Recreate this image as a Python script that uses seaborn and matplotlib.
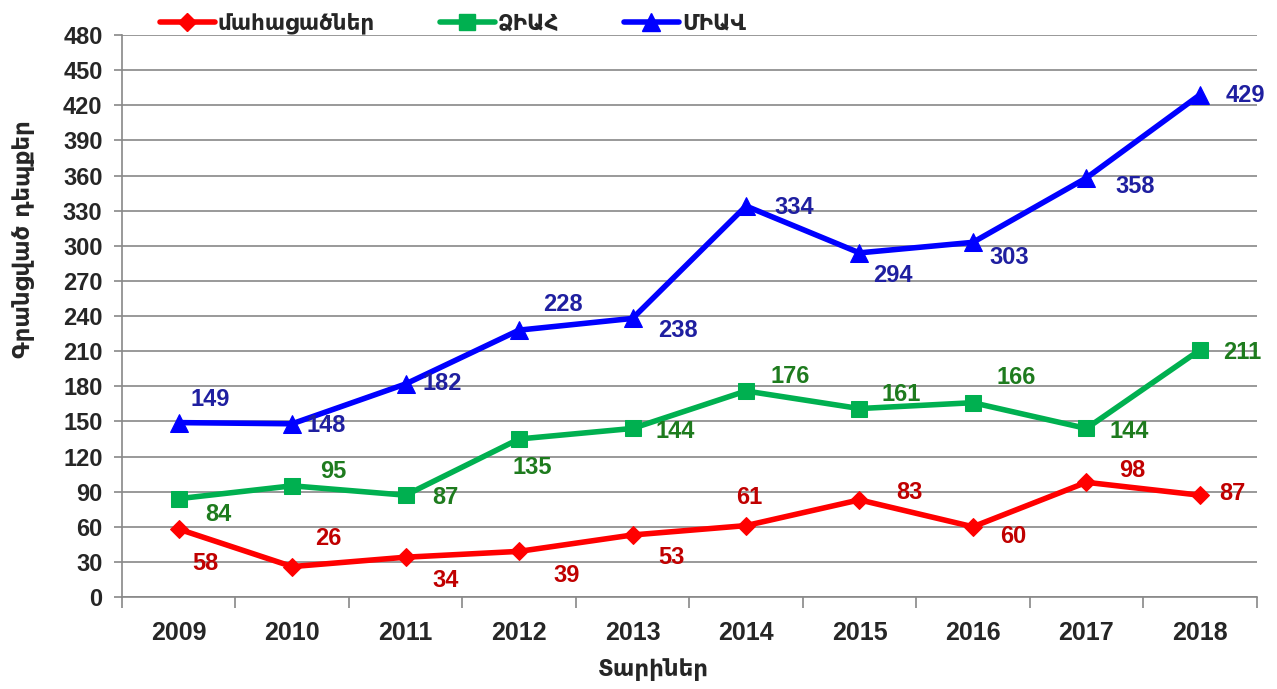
import pandas as pd
import numpy as np
import seaborn as sns
import matplotlib.pyplot as plt
from matplotlib.lines import Line2D

years = [2009, 2010, 2011, 2012, 2013, 2014, 2015, 2016, 2017, 2018]
deaths = [58, 26, 34, 39, 53, 61, 83, 60, 98, 87]
aids = [84, 95, 87, 135, 144, 176, 161, 166, 144, 211]
hiv = [149, 148, 182, 228, 238, 334, 294, 303, 358, 429]

names = ["մահացածներ", "ՁԻԱՀ", "ՄԻԱՎ"]

# label offsets in pixels (dx right, dy down) per point
off_deaths = [(27, 34), (36, -28), (40, 23), (48, 24), (39, 23), (3, -28), (50, -7), (40, 10), (46, -12), (33, -2)]
off_aids = [(40, 16), (41, -14), (40, 2), (13, 29), (43, 3), (44, -14), (42, -14), (43, -25), (43, 3), (42, 2)]
off_hiv = [(32, -23), (34, 2), (37, 0), (44, -26), (45, 12), (48, 1), (33, 23), (36, 15), (49, 9), (46, 1)]

df = pd.DataFrame({
    "year": years * 3,
    "value": deaths + aids + hiv,
    "series": [names[0]] * 10 + [names[1]] * 10 + [names[2]] * 10,
})

sns.set_theme(style="white")
plt.rcParams["font.family"] = ["Liberation Sans", "DejaVu Sans"]
plt.rcParams["font.weight"] = "bold"
arm = ["DejaVu Sans"]

fig = plt.figure(figsize=(12.77, 6.89), dpi=100)
ax = fig.add_axes([0.0955, 0.1335, 0.8885, 0.8155])

line_cols = ["#FF0000", "#00B050", "#0000FF"]
text_cols = ["#C00000", "#1E7B1E", "#1F1FA0"]
markers = ["D", "s", "^"]
msizes = [9, 12, 13]

for name, col, mk, ms in zip(names, line_cols, markers, msizes):
    sub = df[df["series"] == name]
    sns.lineplot(data=sub, x="year", y="value", color=col, marker=mk, markersize=ms,
                 markeredgecolor=col, linewidth=4, ax=ax, legend=False)

for vals, offs, tc in zip([deaths, aids, hiv], [off_deaths, off_aids, off_hiv], text_cols):
    for x, v, (dx, dy) in zip(years, vals, offs):
        ax.annotate(str(v), (x, v), xytext=(dx * 0.72, -dy * 0.72), textcoords="offset points",
                    ha="center", va="center", fontsize=17, fontweight="bold", color=tc)

ax.set_xlim(2008.5, 2018.5)
ax.set_ylim(0, 480)
ax.set_yticks(np.arange(0, 481, 30))
ax.set_xticks(years)
ax.set_xticks(np.arange(2008.5, 2019, 1), minor=True)
ax.tick_params(axis="x", which="major", length=0, pad=17, labelsize=18)
ax.tick_params(axis="x", which="minor", length=8, color="#888888", width=1.2, bottom=True)
ax.tick_params(axis="y", length=6, color="#888888", width=1.2, left=True, labelsize=17, pad=8)
for lab in ax.get_xticklabels() + ax.get_yticklabels():
    lab.set_fontweight("bold")

ax.grid(axis="y", color="#888888", linewidth=1.2)
ax.set_axisbelow(True)
for s in ["top", "right"]:
    ax.spines[s].set_visible(False)
ax.spines["left"].set_color("#888888")
ax.spines["bottom"].set_color("#888888")
ax.spines["left"].set_linewidth(1.2)
ax.spines["bottom"].set_linewidth(1.2)

ax.set_xlabel("Տարիներ", fontsize=16.5, fontweight="bold", family=arm)
ax.set_ylabel("Գրանցված դեպքեր", fontsize=16.5, fontweight="bold", family=arm)
ax.xaxis.set_label_coords(0.468, -0.108)
ax.yaxis.set_label_coords(-0.077, 0.637)

handles = [Line2D([], [], color=c, marker=m, markersize=s, linewidth=4, markeredgecolor=c)
           for c, m, s in zip(line_cols, markers, msizes)]
leg = fig.legend(handles, names, loc="center left", bbox_to_anchor=(0.11, 0.966), ncol=3,
                 frameon=False, handlelength=2.55, handletextpad=0.15, columnspacing=3.0,
                 prop={"weight": "bold", "size": 15.5, "family": arm})

plt.savefig("out.png", dpi=100)
